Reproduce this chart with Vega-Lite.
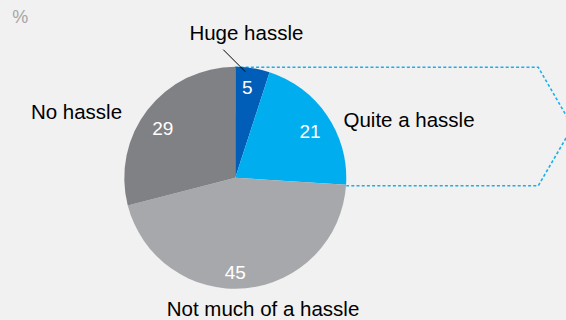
{
  "$schema": "https://vega.github.io/schema/vega-lite/v6.json",
  "width": 566,
  "height": 320,
  "autosize": {"type": "none"},
  "padding": 0,
  "background": "#f1f1f1",
  "config": {"view": {"stroke": null}, "font": "Liberation Sans"},
  "encoding": {
    "x": {"type": "quantitative", "scale": {"domain": [-212, 298], "nice": false, "zero": false}, "axis": null},
    "y": {"type": "quantitative", "scale": {"domain": [-128, 160], "nice": false, "zero": false}, "axis": null}
  },
  "layer": [
    {
      "data": {"values": [
        {"i": 1, "x": 0, "y": 99.5},
        {"i": 2, "x": 273, "y": 99.5},
        {"i": 3, "x": 304, "y": 46},
        {"i": 4, "x": 273, "y": -7.2},
        {"i": 5, "x": 100, "y": -7.2}
      ]},
      "mark": {"type": "line", "color": "#1aaeea", "strokeWidth": 1.6, "strokeDash": [3, 2.2], "clip": false},
      "encoding": {
        "x": {"field": "x", "type": "quantitative"},
        "y": {"field": "y", "type": "quantitative"},
        "order": {"field": "i"}
      }
    },
    {
      "data": {"values": [
        {"category": "Huge hassle", "value": 5, "order": 1},
        {"category": "Quite a hassle", "value": 21, "order": 2},
        {"category": "Not much of a hassle", "value": 45, "order": 3},
        {"category": "No hassle", "value": 29, "order": 4}
      ]},
      "mark": {"type": "arc", "outerRadius": 111},
      "encoding": {
        "x": {"datum": 0, "type": "quantitative"},
        "y": {"datum": 0, "type": "quantitative"},
        "theta": {"field": "value", "type": "quantitative", "stack": true},
        "order": {"field": "order"},
        "color": {
          "field": "category", "type": "nominal", "legend": null,
          "scale": {
            "domain": ["Huge hassle", "Quite a hassle", "Not much of a hassle", "No hassle"],
            "range": ["#005eb8", "#00aeef", "#a7a8ab", "#808184"]
          }
        }
      }
    },
    {
      "data": {"values": [{"x": -10.8, "y": 115.3, "x2": 9, "y2": 95.5}]},
      "mark": {"type": "rule", "color": "#000000", "strokeWidth": 1},
      "encoding": {
        "x": {"field": "x", "type": "quantitative"},
        "y": {"field": "y", "type": "quantitative"},
        "x2": {"field": "x2"},
        "y2": {"field": "y2"}
      }
    },
    {
      "data": {"values": [
        {"label": "5", "x": 10.8, "y": 75.7},
        {"label": "21", "x": 67.3, "y": 35.8},
        {"label": "45", "x": 0, "y": -91.3},
        {"label": "29", "x": -65.3, "y": 38.7}
      ]},
      "mark": {"type": "text", "color": "#ffffff", "fontSize": 19, "align": "center", "baseline": "alphabetic"},
      "encoding": {
        "x": {"field": "x", "type": "quantitative"},
        "y": {"field": "y", "type": "quantitative"},
        "text": {"field": "label"}
      }
    },
    {
      "data": {"values": [
        {"label": "Huge hassle", "x": 10, "y": 123.7},
        {"label": "Not much of a hassle", "x": 25, "y": -124.3}
      ]},
      "mark": {"type": "text", "color": "#000000", "fontSize": 20.5, "align": "center", "baseline": "alphabetic"},
      "encoding": {
        "x": {"field": "x", "type": "quantitative"},
        "y": {"field": "y", "type": "quantitative"},
        "text": {"field": "label"}
      }
    },
    {
      "data": {"values": [{"label": "Quite a hassle", "x": 97.5, "y": 45.3}]},
      "mark": {"type": "text", "color": "#000000", "fontSize": 20.5, "align": "left", "baseline": "alphabetic"},
      "encoding": {
        "x": {"field": "x", "type": "quantitative"},
        "y": {"field": "y", "type": "quantitative"},
        "text": {"field": "label"}
      }
    },
    {
      "data": {"values": [{"label": "No hassle", "x": -102, "y": 53}]},
      "mark": {"type": "text", "color": "#000000", "fontSize": 20.5, "align": "right", "baseline": "alphabetic"},
      "encoding": {
        "x": {"field": "x", "type": "quantitative"},
        "y": {"field": "y", "type": "quantitative"},
        "text": {"field": "label"}
      }
    },
    {
      "data": {"values": [{"label": "%", "x": -201, "y": 139.6}]},
      "mark": {"type": "text", "color": "#a6a6a6", "fontSize": 18, "align": "left", "baseline": "alphabetic"},
      "encoding": {
        "x": {"field": "x", "type": "quantitative"},
        "y": {"field": "y", "type": "quantitative"},
        "text": {"field": "label"}
      }
    }
  ]
}
